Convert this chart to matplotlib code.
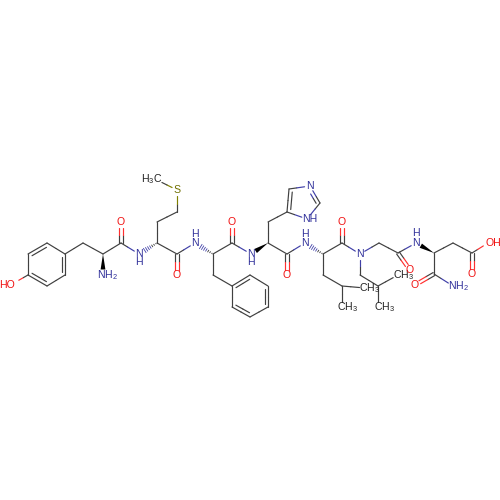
import numpy as np
import matplotlib
matplotlib.use('Agg')
import matplotlib.pyplot as plt

plt.rcParams['font.family'] = ['Liberation Sans', 'DejaVu Sans']
plt.rcParams['mathtext.default'] = 'regular'

# atom positions (pixels)
atom_x = [14, 28, 28, 47, 65, 65, 47, 83, 103, 103, 121, 121, 139, 157, 157, 177, 177, 157,
          177, 177, 195, 213, 232, 232, 251, 213, 232, 250, 268, 268, 250, 232,
          268, 287, 287, 268, 287, 289, 310, 320, 307,
          305, 323, 342, 342, 360, 323, 342, 365, 342,
          360, 378, 378, 398, 379, 398, 410, 416, 434, 453, 472, 472, 488, 434, 415, 453]
atom_y = [283, 275, 254, 243, 254, 275, 286, 243, 254, 275, 243, 222, 254, 243, 222, 212, 190, 180,
          254, 275, 243, 254, 243, 222, 254, 275, 286, 275, 286, 307, 317, 307,
          243, 254, 275, 222, 212, 189, 186, 203, 219,
          243, 254, 243, 222, 254, 275, 286, 288, 307,
          275, 286, 307, 275, 243, 253, 270, 243, 253, 243, 253, 274, 243, 274, 285, 286]
atom_element = ['O', 'C', 'C', 'C', 'C', 'C', 'C', 'C', 'C', 'N', 'C', 'O', 'N', 'C', 'C', 'C', 'S', 'C',
                'C', 'O', 'N', 'C', 'C', 'O', 'N', 'C', 'C', 'C', 'C', 'C', 'C', 'C',
                'C', 'C', 'O', 'C', 'C', 'C', 'N', 'C', 'N',
                'N', 'C', 'C', 'O', 'N', 'C', 'C', 'C', 'C',
                'C', 'C', 'C', 'C', 'C', 'C', 'O', 'N', 'C', 'C', 'C', 'O', 'O', 'C', 'O', 'N']
# atoms that carry a text label, so bonds stop short of them
labelled = [0, 9, 11, 12, 16, 17, 19, 20, 23, 24, 34, 38, 40, 41, 44, 45, 48, 49, 52, 53, 56, 57, 61, 62, 64, 65]

single_bonds = [(0, 1), (1, 2), (3, 4), (5, 6), (4, 7), (7, 8), (8, 10), (10, 12), (13, 14), (14, 15),
                (15, 16), (16, 17), (13, 18), (18, 20), (21, 22), (22, 24), (21, 25), (25, 26),
                (27, 28), (29, 30), (31, 26), (32, 33), (32, 35), (35, 36), (37, 38), (39, 40),
                (40, 36), (33, 41), (42, 43), (43, 45), (42, 46), (46, 47), (47, 48), (47, 49),
                (45, 50), (50, 51), (51, 52), (51, 53), (45, 54), (54, 55), (55, 57), (58, 59),
                (59, 60), (60, 62), (58, 63), (63, 65)]
# ring double bonds: the second line sits toward the ring centre
ring_doubles = [(2, 3, 47, 265), (4, 5, 47, 265), (6, 1, 47, 265),
                (26, 27, 250, 296), (28, 29, 250, 296), (30, 31, 250, 296),
                (36, 37, 305, 202), (38, 39, 305, 202)]
# carbonyl double bonds: two lines either side of the axis
plain_doubles = [(10, 11), (18, 19), (22, 23), (33, 34), (43, 44), (55, 56), (60, 61), (63, 64)]
wedges = [(8, 9), (58, 57), (32, 24)]
hashes = [(13, 12), (21, 20), (42, 41)]

# label text, anchor atom and shift from the atom
label_text = ['HO', 'NH$_2$', 'O', 'N', 'H', 'H$_3$C', 'S', 'O', 'N', 'H', 'N', 'H', 'O', 'O', 'N', 'NH',
              'N', 'H', 'O', 'N', 'CH$_3$', 'CH$_3$', 'CH$_3$', 'CH$_3$', 'O', 'N', 'H', 'OH', 'O', 'O', 'NH$_2$']
label_atom = [0, 9, 11, 12, 12, 17, 16, 19, 20, 20, 24, 24, 23, 34, 38, 40,
              41, 41, 44, 45, 48, 49, 52, 53, 56, 57, 57, 62, 61, 64, 65]
label_dx = [-7, 5, 0, 0, 0, -5, 0, 0, 0, 0, 0, 0, 0, 0, 0, 3, 0, 0, 0, 0, 5, 6, 7, 5.5, 0, 0, 0, 5, 0, 0, 6]
label_dy = [2, 0, 0, 0, 8, -1, 0, 0, 0, -9, 0, 8, 0, 0, 0, 0, 0, -9, 0, 0, 0, 0, 0, 0, 0, 0, -10, 0, 0, 0, 0]

colors = {'C': '#404040', 'N': '#4040a8', 'O': '#ff3030', 'S': '#808000'}
text_colors = {'C': '#222222', 'N': '#30309a', 'O': '#f01010', 'S': '#707000'}
line_w = 0.85


def end_points(a, b):
    p = np.array([atom_x[a], atom_y[a]], dtype=float)
    q = np.array([atom_x[b], atom_y[b]], dtype=float)
    d = (q - p) / np.hypot(*(q - p))
    if a in labelled:
        p = p + d * 5.5
    if b in labelled:
        q = q - d * 5.5
    return p, q


def half_line(ax, p, q, a, b):
    # each half of a bond takes the colour of its own atom
    m = (p + q) / 2
    ax.plot([p[0], m[0]], [p[1], m[1]], color=colors[atom_element[a]], lw=line_w, solid_capstyle='round')
    ax.plot([m[0], q[0]], [m[1], q[1]], color=colors[atom_element[b]], lw=line_w, solid_capstyle='round')


fig = plt.figure(figsize=(5, 5), dpi=100)
ax = fig.add_axes([0, 0, 1, 1])
ax.set_xlim(0, 500)
ax.set_ylim(500, 0)
ax.axis('off')

for a, b in single_bonds:
    p, q = end_points(a, b)
    half_line(ax, p, q, a, b)

for a, b, cx, cy in ring_doubles:
    p, q = end_points(a, b)
    half_line(ax, p, q, a, b)
    d = q - p
    n = np.array([-d[1], d[0]]) / np.hypot(*d)
    if np.dot(n, np.array([cx, cy]) - (p + q) / 2) < 0:
        n = -n
    half_line(ax, p + n * 3.5 + d * 0.12, q + n * 3.5 - d * 0.12, a, b)

for a, b in plain_doubles:
    p, q = end_points(a, b)
    d = q - p
    n = np.array([-d[1], d[0]]) / np.hypot(*d)
    half_line(ax, p + n * 1.7, q + n * 1.7, a, b)
    half_line(ax, p - n * 1.7, q - n * 1.7, a, b)

for a, b in wedges:
    p, q = end_points(a, b)
    d = q - p
    n = np.array([-d[1], d[0]]) / np.hypot(*d)
    ax.fill([p[0], q[0] + n[0] * 2.4, q[0] - n[0] * 2.4], [p[1], q[1] + n[1] * 2.4, q[1] - n[1] * 2.4],
            color='black', lw=0)

for a, b in hashes:
    p, q = end_points(a, b)
    d = q - p
    n = np.array([-d[1], d[0]]) / np.hypot(*d)
    for t in [0.08, 0.22, 0.36, 0.5, 0.64, 0.78, 0.92]:
        c = p + d * t
        w = 2.6 * t
        col = '#333333' if t < 0.5 else colors[atom_element[b]]
        ax.plot([c[0] - n[0] * w, c[0] + n[0] * w], [c[1] - n[1] * w, c[1] + n[1] * w], color=col, lw=0.6)

for txt, i, dx, dy in zip(label_text, label_atom, label_dx, label_dy):
    ax.text(atom_x[i] + dx, atom_y[i] + dy, txt, ha='center', va='center', fontsize=7.6,
            color=text_colors[atom_element[i]])

fig.savefig('out.png', dpi=100, facecolor='white')
